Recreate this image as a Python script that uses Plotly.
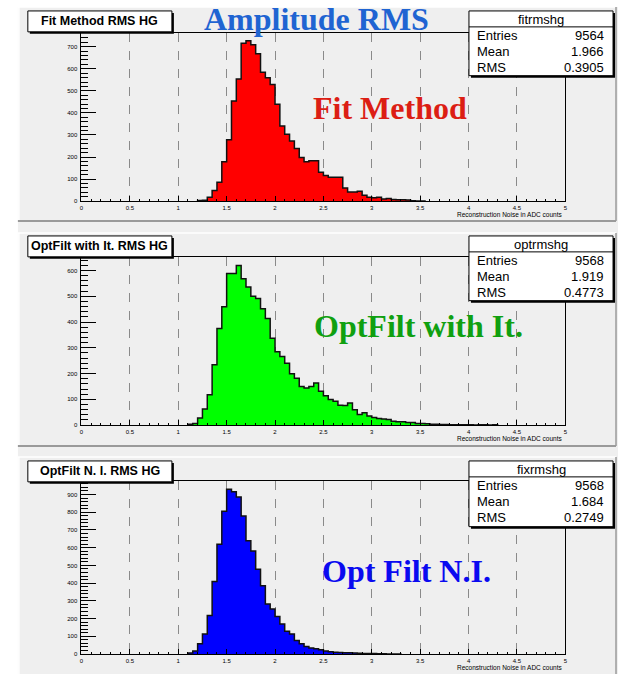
import plotly.graph_objects as go

# ---------------- data ----------------
BIN_WIDTH = 0.05

fit_start = 1.20
fit_counts = [3, 4, 18, 48, 86, 179, 278, 454, 554, 716, 727, 709, 668, 584, 559, 529,
              439, 341, 303, 273, 239, 198, 179, 183, 183, 131, 116, 108, 108, 108, 59,
              41, 41, 45, 26, 18, 15, 18, 10, 12, 7, 6, 6, 5, 2, 1, 1]

opt_start = 1.10
opt_counts = [3, 6, 28, 63, 118, 234, 375, 459, 588, 588, 619, 568, 536, 500, 491, 452,
              414, 337, 285, 266, 240, 199, 182, 150, 144, 150, 163, 131, 114, 99, 93,
              77, 76, 86, 60, 41, 48, 35, 30, 26, 24, 22, 15, 13, 13, 10, 10, 6, 6, 5,
              3, 3, 2, 2, 1, 1, 1, 1, 1, 0, 1, 1, 0, 1]

fix_start = 1.10
fix_counts = [6, 17, 58, 114, 217, 410, 620, 806, 929, 916, 886, 779, 639, 582, 479,
              386, 283, 255, 212, 170, 129, 114, 77, 58, 43, 34, 30, 24, 17, 13, 11, 9,
              8, 7, 6, 5, 4, 3, 3, 2, 2, 1, 1, 1]

pad_titles = ["Fit Method RMS HG", "OptFilt with It. RMS HG", "OptFilt N. I. RMS HG"]
stat_names = ["fitrmshg", "optrmshg", "fixrmshg"]
stat_entries = ["9564", "9568", "9568"]
stat_means = ["1.966", "1.919", "1.684"]
stat_rms = ["0.3905", "0.4773", "0.2749"]
big_labels = ["Fit Method", "OptFilt with It.", "Opt Filt N.I."]
main_title = "Amplitude RMS"
x_title = "Reconstruction Noise in ADC counts"
x_range = [0, 5]
y_max = [763, 653, 977]

starts = [fit_start, opt_start, fix_start]
series = [fit_counts, opt_counts, fix_counts]

# ---------------- style / layout ----------------
W, H = 620, 677
def X(p):
    return p / W
def Y(p):
    return 1 - p / H

fill_colors = ["#ff0000", "#00ff00", "#0000ff"]
label_colors = ["#dc1e14", "#10a010", "#0a0af0"]
label_pos = [(391, 108), (419, 327), (407, 574)]
frame_top = [33, 258, 483]
frame_bot = [202, 427, 657]
box_top = [11, 237, 463]
pad_top = [7, 234, 459]
pad_bot = [222, 448, 677]
FL, FR = 80, 567
BG = "#efefef"

fig = go.Figure()
shapes = []
annotations = []

# canvas background
shapes.append(dict(type="rect", xref="paper", yref="paper", x0=X(16), x1=X(620),
                   y0=Y(677), y1=Y(pad_top[0]), fillcolor=BG, line_width=0, layer="below"))
for i in range(3):
    # pad borders: light top/left, dark bottom/right
    shapes.append(dict(type="line", xref="paper", yref="paper", x0=X(16), x1=X(618),
                       y0=Y(pad_top[i]), y1=Y(pad_top[i]), line=dict(color="#ffffff", width=1.5),
                       layer="below"))
    shapes.append(dict(type="line", xref="paper", yref="paper", x0=X(17), x1=X(17),
                       y0=Y(pad_top[i]), y1=Y(pad_bot[i]), line=dict(color="#ffffff", width=1.5),
                       layer="below"))
    if i < 2:
        shapes.append(dict(type="line", xref="paper", yref="paper", x0=X(16), x1=X(618),
                           y0=Y(pad_bot[i]), y1=Y(pad_bot[i]), line=dict(color="#9a9a9a", width=2),
                           layer="below"))
    shapes.append(dict(type="line", xref="paper", yref="paper", x0=X(618), x1=X(618),
                       y0=Y(pad_top[i]), y1=Y(pad_bot[i]), line=dict(color="#9a9a9a", width=1.5),
                       layer="below"))

for i in range(3):
    xs = "x" if i == 0 else f"x{i+1}"
    ys = "y" if i == 0 else f"y{i+1}"
    counts = series[i]
    edges = [starts[i] + k * BIN_WIDTH for k in range(len(counts) + 1)]
    px = [edges[0]] + edges[:-1] + [edges[-1]]
    py = [0] + list(counts) + [0]
    fig.add_trace(go.Scatter(x=px, y=py, mode="lines", xaxis=xs, yaxis=ys,
                             line=dict(color="#111111", width=1.5, shape="hv"),
                             fill="tozeroy", fillcolor=fill_colors[i],
                             hoverinfo="skip", showlegend=False))

    axn = "" if i == 0 else str(i + 1)
    fig.layout["xaxis" + axn] = dict(
        domain=[X(FL), X(FR)], range=x_range, anchor=ys, dtick=0.5, tick0=0,
        ticks="inside", ticklen=5, tickwidth=1, tickcolor="black",
        showline=True, linecolor="black", linewidth=1, mirror=True,
        showgrid=True, gridcolor="#8a8a8a", griddash="dash", gridwidth=0.8,
        zeroline=False, tickfont=dict(family="Liberation Sans", size=6, color="black"),
        ticklabelstandoff=1,
        minor=dict(ticks="inside", ticklen=2.5, dtick=0.1, tickcolor="black", showgrid=False))
    fig.layout["yaxis" + axn] = dict(
        domain=[Y(frame_bot[i]), Y(frame_top[i])], range=[0, y_max[i]], anchor=xs,
        dtick=100, tick0=0, ticks="inside", ticklen=15, tickwidth=1, tickcolor="black",
        showline=True, linecolor="black", linewidth=1, mirror=True,
        showgrid=False, zeroline=False,
        tickfont=dict(family="Liberation Sans", size=6, color="black"),
        ticklabelstandoff=2,
        minor=dict(ticks="inside", ticklen=7, dtick=20, tickcolor="black", showgrid=False))

    # title box
    bt = box_top[i]
    shapes.append(dict(type="rect", xref="paper", yref="paper", x0=X(28), x1=X(173),
                       y0=Y(bt + 23), y1=Y(bt + 2), fillcolor="#000000", line_width=0))
    shapes.append(dict(type="rect", xref="paper", yref="paper", x0=X(26), x1=X(171),
                       y0=Y(bt + 21), y1=Y(bt), fillcolor="#ffffff",
                       line=dict(color="black", width=1)))
    annotations.append(dict(xref="paper", yref="paper", x=X(98.5), y=Y(bt + 10.5),
                            text="<b>" + pad_titles[i] + "</b>", showarrow=False,
                            xanchor="center", yanchor="middle",
                            font=dict(family="Liberation Sans", size=12.5, color="black")))

    # stats box
    sh = 66 if i == 2 else 65
    shapes.append(dict(type="rect", xref="paper", yref="paper", x0=X(472), x1=X(617),
                       y0=Y(bt + sh + 2), y1=Y(bt + 2), fillcolor="#000000", line_width=0))
    shapes.append(dict(type="rect", xref="paper", yref="paper", x0=X(470), x1=X(615),
                       y0=Y(bt + sh), y1=Y(bt), fillcolor="#ffffff",
                       line=dict(color="black", width=1)))
    shapes.append(dict(type="line", xref="paper", yref="paper", x0=X(470), x1=X(615),
                       y0=Y(bt + 16), y1=Y(bt + 16), line=dict(color="black", width=1)))
    annotations.append(dict(xref="paper", yref="paper", x=X(542.5), y=Y(bt + 8.5),
                            text=stat_names[i], showarrow=False, xanchor="center",
                            yanchor="middle",
                            font=dict(family="Liberation Sans", size=13, color="black")))
    rows = [("Entries", stat_entries[i]), ("Mean", stat_means[i]), ("RMS", stat_rms[i])]
    for r, (lab, val) in enumerate(rows):
        yy = bt + 25 + 16 * r
        annotations.append(dict(xref="paper", yref="paper", x=X(476), y=Y(yy), text=lab,
                                showarrow=False, xanchor="left", yanchor="middle",
                                font=dict(family="Liberation Sans", size=13, color="black")))
        annotations.append(dict(xref="paper", yref="paper", x=X(608), y=Y(yy), text=val,
                                showarrow=False, xanchor="right", yanchor="middle",
                                font=dict(family="Liberation Sans", size=13, color="black")))

    # x-axis title
    annotations.append(dict(xref="paper", yref="paper", x=X(FR), y=Y(frame_bot[i] + 13),
                            text=x_title, showarrow=False, xanchor="right", yanchor="middle",
                            font=dict(family="Liberation Sans", size=6.5, color="black")))

    # big coloured label
    lx, ly = label_pos[i]
    annotations.append(dict(xref="paper", yref="paper", x=X(lx), y=Y(ly),
                            text="<b>" + big_labels[i] + "</b>", showarrow=False,
                            xanchor="center", yanchor="middle",
                            font=dict(family="Liberation Serif", size=32, color=label_colors[i])))

annotations.append(dict(xref="paper", yref="paper", x=X(317), y=Y(19),
                        text="<b>" + main_title + "</b>", showarrow=False,
                        xanchor="center", yanchor="middle",
                        font=dict(family="Liberation Serif", size=32, color="#1f64d2")))

fig.update_layout(width=W, height=H, margin=dict(l=0, r=0, t=0, b=0),
                  paper_bgcolor="#ffffff", plot_bgcolor=BG,
                  shapes=shapes, annotations=annotations, showlegend=False)

fig.write_html("out.html")
